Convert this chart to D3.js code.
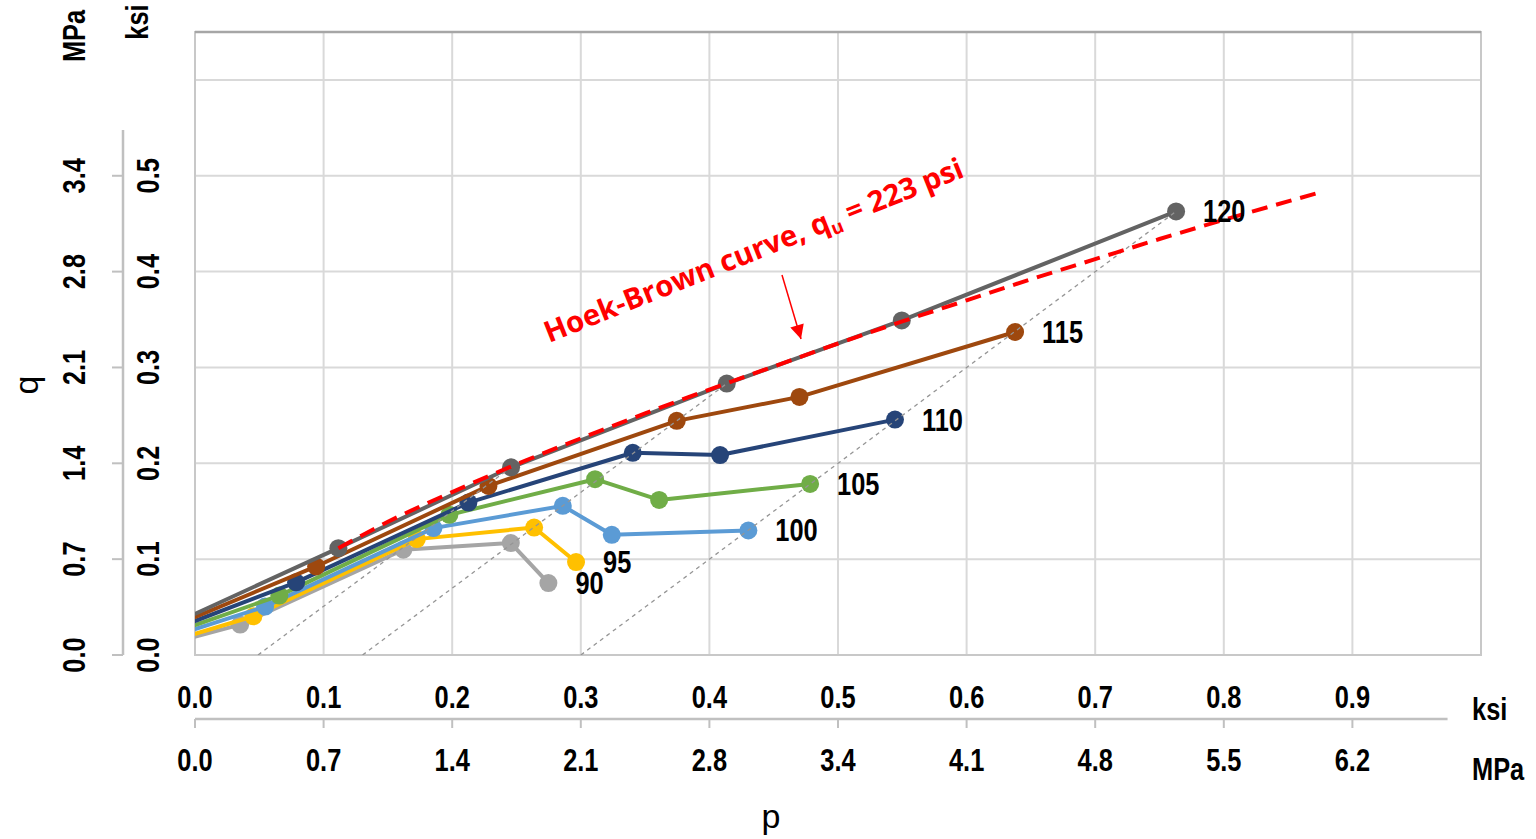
<!DOCTYPE html>
<html><head><meta charset="utf-8">
<script src="https://cdn.jsdelivr.net/npm/d3@7"></script>
<style>
html,body{margin:0;padding:0;background:#fff;}
svg{display:block;}
.tk{font-family:"Liberation Sans",Arial,sans-serif;font-weight:bold;font-size:31px;fill:#000;}
</style></head><body><svg id="c" width="1536" height="839"></svg>
<script>
// ---- data (ksi) ----
const seriesNames = ["90","95","100","105","110","115","120"];
const seriesColors = ["#A5A5A5","#FFC000","#5B9BD5","#70AD47","#264478","#9E480E","#636363"];
const p90  = [-0.03, 0.0351, 0.1620, 0.2456, 0.2748];
const q90  = [0.0082, 0.0317, 0.1098, 0.1168, 0.0751];
const p95  = [-0.03, 0.0454, 0.1725, 0.2637, 0.2963];
const q95  = [0.0098, 0.0404, 0.1209, 0.1330, 0.0970];
const p100 = [-0.03, 0.0545, 0.1854, 0.2860, 0.3241, 0.4303];
const q100 = [0.0141, 0.0505, 0.1324, 0.1556, 0.1254, 0.1299];
const p105 = [-0.03, 0.0656, 0.1978, 0.3111, 0.3609, 0.4783];
const q105 = [0.0171, 0.0620, 0.1462, 0.1834, 0.1618, 0.1785];
const p110 = [-0.03, 0.0786, 0.2126, 0.3404, 0.4083, 0.5443];
const q110 = [0.0201, 0.0758, 0.1590, 0.2110, 0.2086, 0.2456];
const p115 = [-0.03, 0.0942, 0.2282, 0.3746, 0.4700, 0.6377];
const q115 = [0.0227, 0.0924, 0.1764, 0.2443, 0.2693, 0.3370];
const p120 = [-0.03, 0.1115, 0.2458, 0.4135, 0.5496, 0.7629];
const q120 = [0.0245, 0.1115, 0.1958, 0.2832, 0.3491, 0.4628];
// Hoek-Brown curve
const hbP = [0.1115,0.15,0.2,0.25,0.3,0.35,0.4,0.45,0.5,0.55,0.6,0.65,0.7,0.75,0.8,0.873];
const hbQ = [0.1115,0.139,0.170,0.199,0.226,0.252,0.277,0.301,0.325,0.348,0.370,0.392,0.413,0.434,0.454,0.482];
// total stress paths (slope 1) from confining pressure to failure
const spStartP = [0.049, 0.1303, 0.300];
const spEndP   = [0.2458, 0.4135, 0.7629];
const spEndQ   = [0.1958, 0.2832, 0.4628];
// ticks
const xTicks = [0,0.1,0.2,0.3,0.4,0.5,0.6,0.7,0.8,0.9];
const xKsiLabels = ["0.0","0.1","0.2","0.3","0.4","0.5","0.6","0.7","0.8","0.9"];
const xMpaLabels = ["0.0","0.7","1.4","2.1","2.8","3.4","4.1","4.8","5.5","6.2"];
const yTicks = [0,0.1,0.2,0.3,0.4,0.5];
const yKsiLabels = ["0.0","0.1","0.2","0.3","0.4","0.5"];
const yMpaLabels = ["0.0","0.7","1.4","2.1","2.8","3.4"];
const gridX = [0,0.1,0.2,0.3,0.4,0.5,0.6,0.7,0.8,0.9,1.0];
const gridY = [0.1,0.2,0.3,0.4,0.5,0.6];

const P = [p90,p95,p100,p105,p110,p115,p120];
const Q = [q90,q95,q100,q105,q110,q115,q120];

// ---- scales ----
const x = d3.scaleLinear().domain([0,1]).range([195,1481]);
const y = d3.scaleLinear().domain([0,0.65]).range([655,32]);
const NARROW = 0.82;

const svg = d3.select("#c");
const defs = svg.append("defs");
defs.append("clipPath").attr("id","clip")
  .append("rect").attr("x",x(0)).attr("y",y(0.65)).attr("width",x(1)-x(0)).attr("height",y(0)-y(0.65));
defs.append("marker").attr("id","arr").attr("viewBox","0 0 10 10")
  .attr("refX",10).attr("refY",5).attr("orient","auto")
  .attr("markerUnits","userSpaceOnUse").attr("markerWidth",16).attr("markerHeight",14)
  .append("path").attr("d","M0,0 L10,5 L0,10 Z").attr("fill","#FF0000");

// narrow bold text helper
function ntext(parent, tx, ty, rot, anchor, str){
  parent.append("g").attr("transform",`translate(${tx},${ty}) rotate(${rot}) scale(${NARROW},1)`)
    .append("text").attr("class","tk").attr("text-anchor",anchor).text(str);
}

// grid
const g = svg.append("g");
g.selectAll(".gx").data(gridX).join("line")
  .attr("x1",d=>x(d)).attr("x2",d=>x(d)).attr("y1",y(0)).attr("y2",y(0.65))
  .attr("stroke","#D9D9D9").attr("stroke-width",2);
g.selectAll(".gy").data(gridY).join("line")
  .attr("x1",x(0)).attr("x2",x(1)).attr("y1",d=>y(d)).attr("y2",d=>y(d))
  .attr("stroke","#D9D9D9").attr("stroke-width",2);
g.append("rect").attr("x",x(0)).attr("y",y(0.65)).attr("width",x(1)-x(0)).attr("height",y(0)-y(0.65))
  .attr("fill","none").attr("stroke","#C8C8C8").attr("stroke-width",2);
g.append("line").attr("x1",x(0)).attr("x2",x(1)).attr("y1",y(0.65)).attr("y2",y(0.65))
  .attr("stroke","#A6A6A6").attr("stroke-width",2.5);

const plot = svg.append("g").attr("clip-path","url(#clip)");
const line = d3.line().x(d=>x(d[0])).y(d=>y(d[1]));

// series
seriesNames.forEach((nm,i)=>{
  const pts = P[i].map((p,j)=>[p,Q[i][j]]);
  plot.append("path").datum(pts).attr("d",line).attr("fill","none")
    .attr("stroke",seriesColors[i]).attr("stroke-width",4).attr("stroke-linejoin","round");
  plot.selectAll(null).data(pts).join("circle")
    .attr("cx",d=>x(d[0])).attr("cy",d=>y(d[1])).attr("r",9).attr("fill",seriesColors[i]);
});

// stress paths
plot.selectAll(".sp").data(spStartP).join("line")
  .attr("x1",d=>x(d)).attr("y1",y(0))
  .attr("x2",(d,i)=>x(spEndP[i])).attr("y2",(d,i)=>y(spEndQ[i]))
  .attr("stroke","#959595").attr("stroke-width",1.3).attr("stroke-dasharray","4,4");

// Hoek-Brown curve
const hbLine = d3.line().x(d=>x(d[0])).y(d=>y(d[1])).curve(d3.curveMonotoneX);
plot.append("path").datum(hbP.map((p,j)=>[p,hbQ[j]])).attr("d",hbLine)
  .attr("fill","none").attr("stroke","#FF0000").attr("stroke-width",4).attr("stroke-dasharray","16,9");

// series labels
seriesNames.forEach((nm,i)=>{
  const n = P[i].length-1;
  ntext(svg, x(P[i][n])+27, y(Q[i][n])+11, 0, "start", nm);
});

// Hoek-Brown annotation
const hb = svg.append("text").attr("transform","translate(549,343) rotate(-21.8)")
  .attr("font-family","'Open Sans',sans-serif").attr("font-weight","bold").attr("font-size",29.3)
  .attr("fill","#FF0000");
hb.append("tspan").text("Hoek-Brown curve, q");
hb.append("tspan").attr("font-size",18.5).attr("dy",6).text("u");
hb.append("tspan").attr("dy",-6).text(" = 223 psi");
svg.append("line").attr("x1",782).attr("y1",275).attr("x2",801).attr("y2",339)
  .attr("stroke","#FF0000").attr("stroke-width",1.5).attr("marker-end","url(#arr)");

// bottom axis
const ax = svg.append("g");
ax.append("line").attr("x1",x(0)).attr("x2",x(0.974)).attr("y1",719).attr("y2",719)
  .attr("stroke","#C0C0C0").attr("stroke-width",2.5);
ax.selectAll(".t").data(xTicks).join("line")
  .attr("x1",d=>x(d)).attr("x2",d=>x(d)).attr("y1",719).attr("y2",728)
  .attr("stroke","#C0C0C0").attr("stroke-width",2);
xTicks.forEach((d,i)=>{
  ntext(ax, x(d), 708, 0, "middle", xKsiLabels[i]);
  ntext(ax, x(d), 771, 0, "middle", xMpaLabels[i]);
});
ntext(svg, 1472, 720, 0, "start", "ksi");
ntext(svg, 1472, 780, 0, "start", "MPa");
svg.append("text").attr("x",771).attr("y",828).attr("text-anchor","middle")
  .attr("font-family","'Liberation Sans',Arial,sans-serif").attr("font-size",34).text("p");

// left axis
const ay = svg.append("g");
ay.append("line").attr("x1",123).attr("x2",123).attr("y1",130).attr("y2",y(0))
  .attr("stroke","#C0C0C0").attr("stroke-width",2.5);
ay.selectAll(".t").data(yTicks).join("line")
  .attr("x1",112).attr("x2",123).attr("y1",d=>y(d)).attr("y2",d=>y(d))
  .attr("stroke","#C0C0C0").attr("stroke-width",2);
yTicks.forEach((d,i)=>{
  ntext(ay, 159, y(d), -90, "middle", yKsiLabels[i]);
  ntext(ay, 85, y(d), -90, "middle", yMpaLabels[i]);
});
ntext(svg, 85, 36, -90, "middle", "MPa");
ntext(svg, 148, 22, -90, "middle", "ksi");
svg.append("text").attr("transform","translate(38,385) rotate(-90)").attr("text-anchor","middle")
  .attr("font-family","'Liberation Sans',Arial,sans-serif").attr("font-size",34).text("q");
</script></body></html>
